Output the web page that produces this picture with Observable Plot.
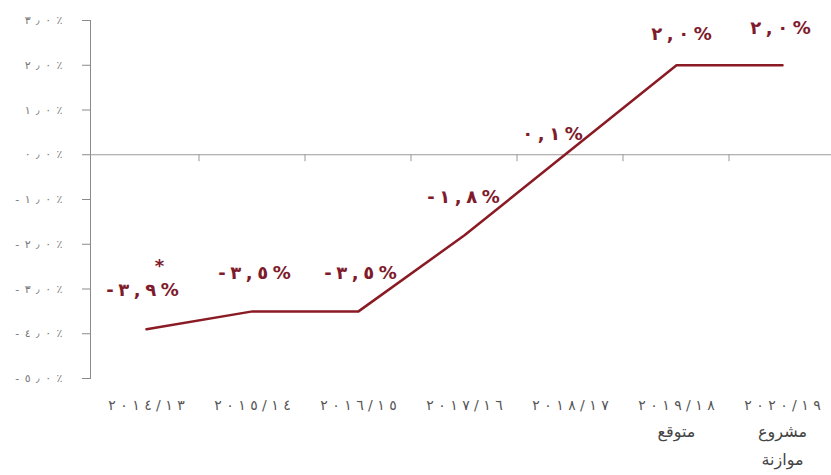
<!DOCTYPE html>
<html><head><meta charset="utf-8">
<script src="https://cdn.jsdelivr.net/npm/d3@7"></script>
<script src="https://cdn.jsdelivr.net/npm/@observablehq/plot@0.6"></script>
<style>
body{margin:0;background:#fff;}
#chart svg{background:#fff;}
</style>
</head><body><div id="chart"></div>
<script>
const categories = ["٢٠١٤/١٣","٢٠١٥/١٤","٢٠١٦/١٥","٢٠١٧/١٦","٢٠١٨/١٧","٢٠١٩/١٨","٢٠٢٠/١٩"];
const subLabels = ["","","","","","متوقع","مشروع\nموازنة"];
const values = [-3.9,-3.5,-3.5,-1.8,0.1,2.0,2.0];
const valueLabels = ["-٣,٩%","-٣,٥%","-٣,٥%","-١,٨%","٠,١%","٢,٠%","٢,٠%"];
const footnoteMark = "*";
const yTicks = [-5,-4,-3,-2,-1,0,1,2,3];
const yTickLabels = ["-٥٫٠٪","-٤٫٠٪","-٣٫٠٪","-٢٫٠٪","-١٫٠٪","٠٫٠٪","١٫٠٪","٢٫٠٪","٣٫٠٪"];

const data = categories.map((c, i) => ({
  cat: c,
  value: values[i],
  label: valueLabels[i],
  sub: subLabels[i]
}));

const lineColor = "#8a1a24";
const labelColor = "#7e1b2c";
// label nudges (dx, dy) relative to each point
const nudges = [[-4,-39],[2,-38],[2,-38],[-1,-38],[-18,-16],[5,-31],[-2,-37]];

const boundaryTicks = (index, scales) => {
  const g = d3.create("svg:g");
  const xs = categories.map(c => scales.x(c));
  const y0 = scales.y(0);
  for (let i = 1; i < xs.length; i++) {
    const xm = (xs[i - 1] + xs[i]) / 2;
    g.append("line").attr("x1", xm).attr("x2", xm).attr("y1", y0).attr("y2", y0 + 7)
      .attr("stroke", "#9a9a9a");
  }
  return g.node();
};

const chart = Plot.plot({
  width: 831,
  height: 475,
  marginTop: 20,
  marginBottom: 97,
  marginLeft: 90,
  marginRight: 0,
  style: {fontFamily: "DejaVu Sans", fontSize: "11px", color: "#8a8a8a", background: "#fff"},
  x: {type: "point", domain: categories, axis: null, insetLeft: 2, insetRight: -4},
  y: {
    domain: [-5, 3],
    ticks: yTicks,
    tickFormat: d => yTickLabels[yTicks.indexOf(d)],
    tickSize: 8,
    tickPadding: 20,
    line: true,
    label: null,
    grid: false
  },
  marks: [
    Plot.ruleY([0], {stroke: "#9a9a9a"}),
    boundaryTicks,
    Plot.line(data, {x: "cat", y: "value", stroke: lineColor, strokeWidth: 2.5}),
    ...nudges.map(([dx, dy], i) => Plot.text([data[i]], {
      x: "cat", y: "value", text: "label", dx, dy,
      fill: labelColor, fontSize: 18, fontWeight: "bold"
    })),
    Plot.text([data[0]], {x: "cat", y: "value", text: () => footnoteMark, dx: 13, dy: -63,
      fill: labelColor, fontSize: 18, fontWeight: "bold"}),
    Plot.text(data, {x: "cat", text: "cat", frameAnchor: "bottom", lineAnchor: "top",
      dy: 22, fontSize: 14, fill: "#555"}),
    Plot.text(data, {x: "cat", text: "sub", frameAnchor: "bottom", lineAnchor: "top",
      dy: 39, lineHeight: 1.75, fontSize: 16, fill: "#444"})
  ]
});
document.getElementById("chart").appendChild(chart);

// widen the spacing of the numeric labels (Chrome ignores letter-spacing for Arabic digits)
const arabicLetters = /[\u0621-\u064A]/;
const spaced = (t, sp) => Array.from(t).join(sp);
d3.select(chart).selectAll("text").each(function() {
  const t = this.textContent;
  if (!t || arabicLetters.test(t)) return;
  const sel = d3.select(this);
  let sp = null;
  if (valueLabels.includes(t)) sp = "\u2005";
  else if (categories.includes(t)) sp = " ";
  else if (yTickLabels.includes(t)) { sp = "\u2002"; sel.style("fill", "#777"); }
  if (sp === null) return;
  const target = this.querySelector("tspan") || this;
  target.textContent = spaced(t, sp);
  sel.style("unicode-bidi", "bidi-override").style("direction", "ltr");
});
</script>
</body></html>
